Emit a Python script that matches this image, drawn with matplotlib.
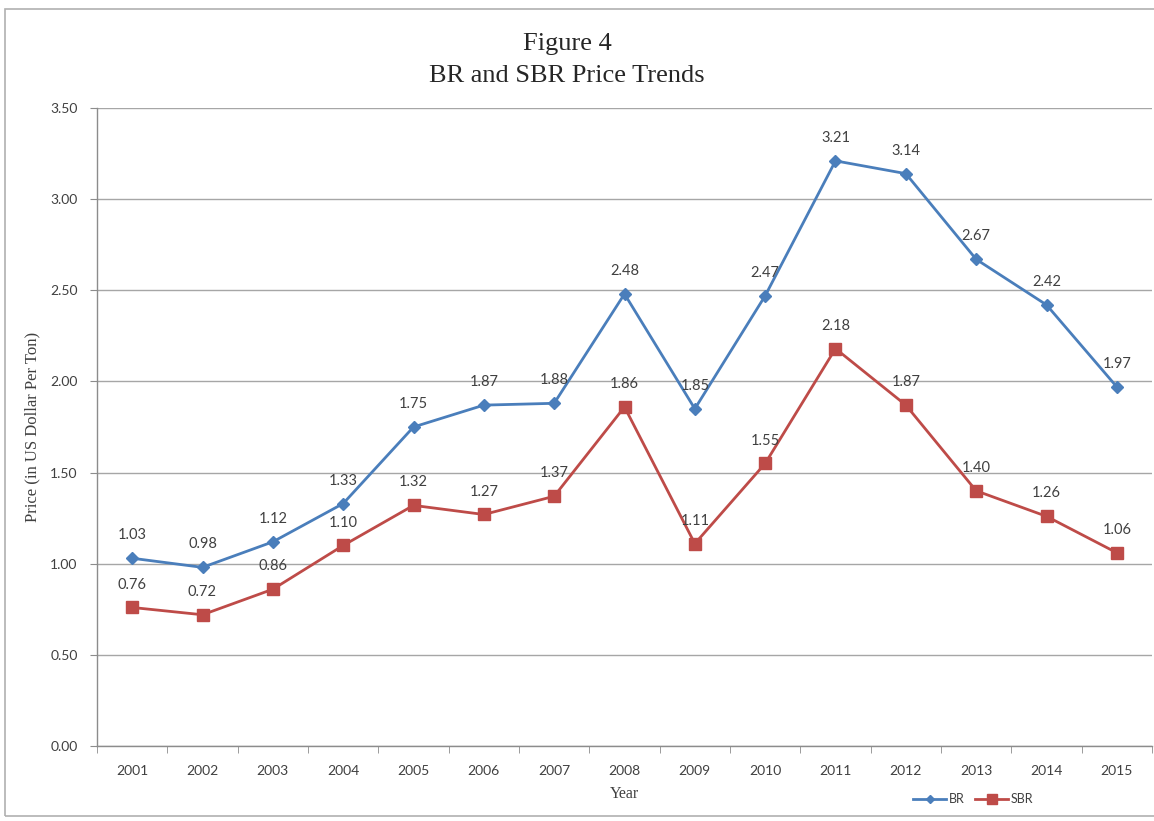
import matplotlib
matplotlib.use("Agg")
import matplotlib.pyplot as plt
from matplotlib.lines import Line2D
from matplotlib.patches import Rectangle
from matplotlib.ticker import FixedLocator, FormatStrFormatter

# Data
years = ["2001", "2002", "2003", "2004", "2005", "2006", "2007", "2008",
         "2009", "2010", "2011", "2012", "2013", "2014", "2015"]
br_price = [1.03, 0.98, 1.12, 1.33, 1.75, 1.87, 1.88, 2.48,
            1.85, 2.47, 3.21, 3.14, 2.67, 2.42, 1.97]
sbr_price = [0.76, 0.72, 0.86, 1.10, 1.32, 1.27, 1.37, 1.86,
             1.11, 1.55, 2.18, 1.87, 1.40, 1.26, 1.06]
y_ticks = [0.0, 0.5, 1.0, 1.5, 2.0, 2.5, 3.0, 3.5]

BR_COLOR = "#4a7ebb"
SBR_COLOR = "#be4b48"
TEXT_COLOR = "#404040"
GRID_COLOR = "#a6a6a6"
AXIS_COLOR = "#8c8c8c"
SANS = ["Lato", "DejaVu Sans"]
SERIF = ["Liberation Serif", "DejaVu Serif"]

W, H = 1154, 821
fig = plt.figure(figsize=(W / 100, H / 100), dpi=100)
fig.patch.set_facecolor("white")

# outer chart frame
fig.patches.append(Rectangle((5 / W, 1 - 816 / H), 1.2, (816 - 9) / H,
                             transform=fig.transFigure, fill=False,
                             edgecolor="#b0b0b0", linewidth=1.2))

ax = fig.add_axes([97 / W, 1 - 746 / H, (1152 - 97) / W, (746 - 108) / H])
x = list(range(len(years)))

ax.plot(x, br_price, color=BR_COLOR, linewidth=2.0, marker="D",
        markersize=6, label="BR", zorder=3)
ax.plot(x, sbr_price, color=SBR_COLOR, linewidth=2.0, marker="s",
        markersize=8, label="SBR", zorder=3)

for series in (br_price, sbr_price):
    for xi, v in zip(x, series):
        ax.annotate(f"{v:.2f}", (xi, v), xytext=(0, 16.5),
                    textcoords="offset points", ha="center", va="center",
                    fontsize=10.5, color=TEXT_COLOR, family=SANS)

ax.set_xlim(-0.5, len(years) - 0.5)
ax.set_ylim(0, 3.5)

# category axis: labels at centres, tick marks at boundaries
ax.set_xticks(x)
ax.set_xticklabels(years, family=SANS, fontsize=10, color=TEXT_COLOR)
ax.tick_params(axis="x", which="major", length=0, pad=14)
ax.xaxis.set_minor_locator(FixedLocator([i - 0.5 for i in range(len(years) + 1)]))
ax.tick_params(axis="x", which="minor", length=5, color=AXIS_COLOR, direction="out")

ax.set_yticks(y_ticks)
ax.yaxis.set_major_formatter(FormatStrFormatter("%.2f"))
for lbl in ax.get_yticklabels():
    lbl.set_family(SANS)
ax.tick_params(axis="y", length=5, color=AXIS_COLOR, labelsize=10,
               labelcolor=TEXT_COLOR, pad=9)

ax.grid(axis="y", color=GRID_COLOR, linewidth=1.0)
ax.set_axisbelow(True)
for side in ["top", "right"]:
    ax.spines[side].set_visible(False)
for side in ["left", "bottom"]:
    ax.spines[side].set_color(AXIS_COLOR)
    ax.spines[side].set_linewidth(1.0)

ax.set_ylabel("Price (in US Dollar Per Ton)", family=SERIF, fontsize=12,
              color=TEXT_COLOR, labelpad=7)
ax.set_xlabel("Year", family=SERIF, fontsize=11.5, color=TEXT_COLOR, labelpad=6)

fig.text(567 / W, 1 - 50 / H, "Figure 4", ha="center", va="baseline",
         family=SERIF, fontsize=19, color="#262626")
fig.text(567 / W, 1 - 82 / H, "BR and SBR Price Trends", ha="center",
         va="baseline", family=SERIF, fontsize=19, color="#262626")

handles = [Line2D([], [], color=BR_COLOR, marker="D", markersize=4, linewidth=2),
           Line2D([], [], color=SBR_COLOR, marker="s", markersize=7, linewidth=2)]
leg = fig.legend(handles, ["BR", "SBR"], loc="center",
                 bbox_to_anchor=(973 / W, 1 - 799 / H), ncol=2, frameon=False,
                 handlelength=2.7, handletextpad=0.2, columnspacing=0.8,
                 prop={"family": SANS, "size": 9})
for t in leg.get_texts():
    t.set_color(TEXT_COLOR)

fig.savefig("out.png", dpi=100)
